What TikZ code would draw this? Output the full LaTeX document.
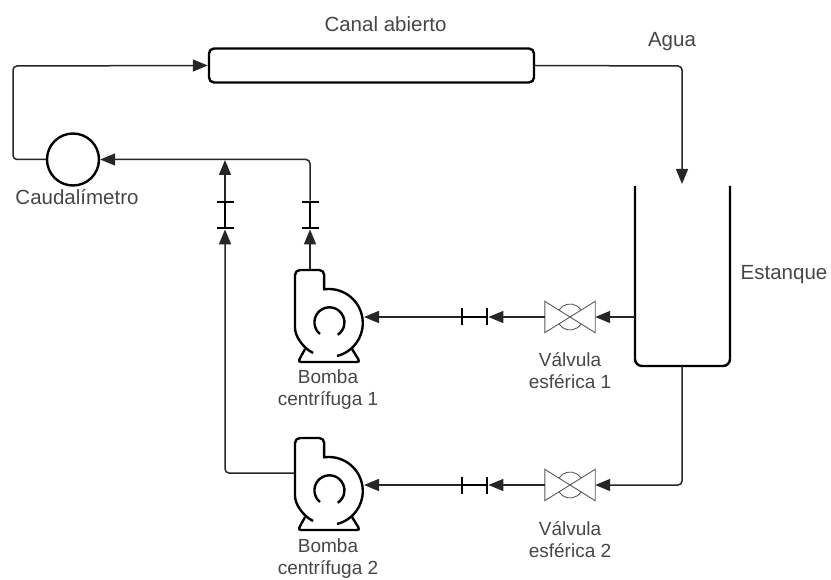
\documentclass[tikz,border=0pt]{standalone}
\usepackage{fontspec}
\setmainfont{Liberation Sans}
\usepackage{xcolor}
\usetikzlibrary{arrows.meta}
\definecolor{qtext}{RGB}{70, 70, 70}

\tikzset{
    pipe/.style={line width=1.5pt, rounded corners=4pt, black!85},
    flow/.style={pipe, -{Triangle[length=15pt, width=12pt]}},
    body/.style={line width=2.4pt, black},
    label/.style={text=qtext, align=center, font=\fontsize{20.5}{22.5}\selectfont, inner sep=0pt},
    smalllabel/.style={label, font=\fontsize{19}{22.5}\selectfont},
    bridah/.style={fill=black, inner sep=0pt, minimum width=2.4pt, minimum height=17pt},
    bridav/.style={fill=black, inner sep=0pt, minimum width=17pt, minimum height=2.4pt},
    valvebox/.style={inner sep=0pt, minimum width=50pt, minimum height=31pt},
}

% pump, origin at the impeller centre
\newcommand{\bomba}[3]{
    \begin{scope}[shift={(#2,#3)}]
        \draw[body, line join=round] (8,33) arc[start angle=76, end angle=-98, radius=34]
            [rounded corners=5pt] -- (-4.7,-53) -- (-34,-53) -- (-34,0) [sharp corners]
            arc[start angle=180, end angle=118, radius=34];
        \draw[body, rounded corners=3pt] (-24,26) -- (-31,39) -- (31,39) -- (23,26);
        \draw[body] (-9,11) arc[start angle=129, end angle=416, radius=15];
        \coordinate (#1in) at (35,-6);
        \coordinate (#1out) at (-35,-18);
        \coordinate (#1top) at (-19,-53);
    \end{scope}
}

% ball valve drawn inside its box
\newcommand{\valvula}[3]{
    \node[valvebox] (#1) at (#2,#3) {};
    \draw[line width=0.9pt, black!65] (#1.north west) -- (#1.south east) -- (#1.north east) -- (#1.south west) -- cycle;
    \draw[line width=0.9pt, black!65] (#1.center) ++(148:13) arc[start angle=148, end angle=32, radius=13];
    \draw[line width=0.9pt, black!65] (#1.center) ++(-148:13) arc[start angle=-148, end angle=-32, radius=13];
}

\begin{document}
\begin{tikzpicture}[x=1pt, y=-1pt]
        \useasboundingbox (0,0) rectangle (831,580);

        \node[draw, body, rounded corners=5pt, minimum width=325pt, minimum height=34pt, inner sep=0pt] (canal) at (371.5,65.5) {};
        \node[draw, body, circle, minimum size=52pt, inner sep=0pt] (caudal) at (73,159.5) {};

        % tank, open at the top
        \draw[body, rounded corners=7pt] (635,186) -- (635,366) -- (730,366) -- (730,186);
        \coordinate (tanktop) at (682,184);
        \coordinate (tankside) at (635,317);
        \coordinate (tankbottom) at (682,366);

        \bomba{b1}{329}{323}
        \bomba{b2}{329}{491}
        \valvula{valve1}{570}{317}
        \valvula{valve2}{570}{485}

        \node[bridah] (t1a) at (487,317) {};
        \node[bridah] (t1b) at (462,317) {};
        \node[bridah] (t2a) at (487,485) {};
        \node[bridah] (t2b) at (462,485) {};
        \node[bridav] (t3a) at (310,228) {};
        \node[bridav] (t3b) at (310,202) {};
        \node[bridav] (t4a) at (225,228) {};
        \node[bridav] (t4b) at (225,202) {};

        \coordinate (leftup) at (13,159.5);
        \coordinate (lefttop) at (13,66);
        \coordinate (canalcorner) at (682,66);
        \coordinate (b1corner) at (310,159.5);
        \coordinate (b2corner) at (225,473);
        \coordinate (union) at (225,160);
        \coordinate (tankcorner) at (682,485);
        \coordinate (b1neck) at (310,270);

        \draw[flow] (caudal.west) -- (leftup) -- (lefttop) -- (canal.west);
        \draw[flow] (canal.east) -- (canalcorner) -- (tanktop);
        \draw[flow] (tankside) -- (valve1.east);
        \draw[flow] (valve1.west) -- (t1a.east);
        \draw[line width=1.8pt] (t1a.west) -- (t1b.east);
        \draw[flow] (t1b.west) -- (b1in);
        \draw[flow] (tankbottom) -- (tankcorner) -- (valve2.east);
        \draw[flow] (valve2.west) -- (t2a.east);
        \draw[line width=1.8pt] (t2a.west) -- (t2b.east);
        \draw[flow] (t2b.west) -- (b2in);
        \draw[flow] (b1neck) -- (t3a.south);
        \draw[line width=1.8pt] (t3a.north) -- (t3b.south);
        \draw[flow] (t3b.north) -- (b1corner) -- (caudal.east);
        \draw[flow] (b2out) -- (b2corner) -- (t4a.south);
        \draw[line width=1.8pt] (t4a.north) -- (t4b.south);
        \draw[flow] (t4b.north) -- (union);

        \node[label] (lcanal) at (385.5,24) {Canal abierto};
        \node[label] (lagua) at (672,42) {Agua};
        \node[label] (lestanque) at (784,275) {Estanque};
        \node[label] (lcaudal) at (77,197) {Caudalímetro};
        \node[smalllabel] (lbomba1) at (328,389.5) {Bomba\\centrífuga 1};
        \node[smalllabel] (lbomba2) at (328,558.5) {Bomba\\centrífuga 2};
        \node[smalllabel] (lvalve1) at (570,370.5) {Válvula\\esférica 1};
        \node[smalllabel] (lvalve2) at (570,539.5) {Válvula\\esférica 2};
    \end{tikzpicture}
\end{document}
